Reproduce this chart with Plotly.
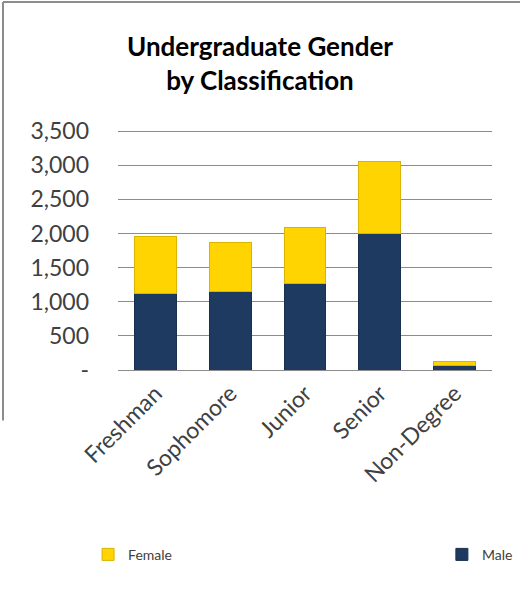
import plotly.graph_objects as go

categories = ["Freshman", "Sophomore", "Junior", "Senior", "Non-Degree"]
male = [1127, 1152, 1268, 2002, 63]
female = [831, 714, 821, 1050, 58]
tick_values = [0, 500, 1000, 1500, 2000, 2500, 3000, 3500]
tick_labels = ["-", "500", "1,000", "1,500", "2,000", "2,500", "3,000", "3,500"]

fig = go.Figure()
fig.add_trace(go.Bar(x=categories, y=male, name="Male", legend="legend2", showlegend=True,
                     marker=dict(color="#1F3A60", line=dict(color="#17304F", width=1))))
fig.add_trace(go.Bar(x=categories, y=female, name="Female", legend="legend", showlegend=True,
                     marker=dict(color="#FFD400", line=dict(color="#D9B400", width=1))))

font = "Lato, Open Sans, sans-serif"
fig.update_layout(
    width=520, height=590,
    barmode="stack", bargap=0.44,
    showlegend=True,
    paper_bgcolor="white", plot_bgcolor="white",
    margin=dict(l=118, r=28, t=130, b=220, autoexpand=False),
    font=dict(family=font, size=22, color="#404040"),
    title=dict(text="<b>Undergraduate Gender<br>by Classification</b>",
               x=0.5, xanchor="center", y=0.905, yanchor="middle",
               font=dict(family=font, size=26, color="#000000")),
    legend=dict(orientation="h", x=-0.08, xanchor="left", y=-0.77, yanchor="middle",
                font=dict(size=14, color="#404040"), bgcolor="rgba(0,0,0,0)"),
    legend2=dict(orientation="h", x=0.866, xanchor="left", y=-0.77, yanchor="middle",
                 font=dict(size=14, color="#404040"), bgcolor="rgba(0,0,0,0)"),
)
fig.update_yaxes(range=[0, 3515], tickvals=tick_values, ticktext=tick_labels,
                 showgrid=True, gridcolor="#8C8C8C", gridwidth=1,
                 zeroline=False, showline=False, ticks="", ticklabelstandoff=28,
                 tickfont=dict(size=23, color="#404040"))
fig.update_xaxes(tickangle=-45, showline=True, linecolor="#8C8C8C", linewidth=1,
                 ticks="", tickfont=dict(size=23, color="#404040"))

# chart border (left and top edges)
fig.add_shape(type="line", xref="paper", yref="paper",
              x0=-0.3075, x1=-0.3075, y0=-0.21, y1=1.533,
              line=dict(color="#8C8C8C", width=2))
fig.add_shape(type="line", xref="paper", yref="paper",
              x0=-0.3075, x1=1.1, y0=1.533, y1=1.533,
              line=dict(color="#8C8C8C", width=2))

# drop the default body margin so the figure sits at the window's corner
fig.write_html("out.html", config={"displayModeBar": False},
               post_script="document.body.style.margin='0';")
